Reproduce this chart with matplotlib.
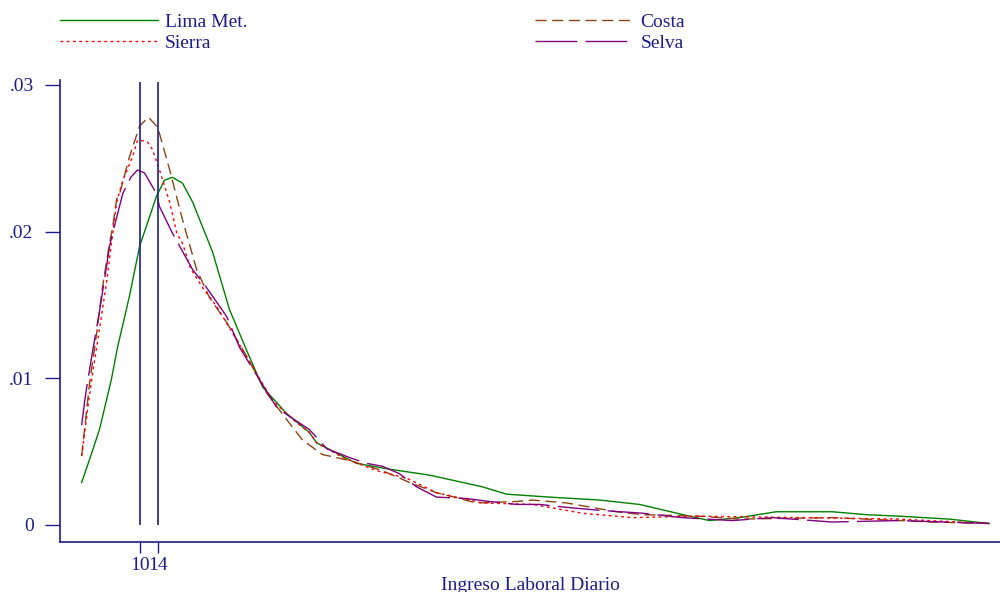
import numpy as np
import matplotlib
matplotlib.use("Agg")
import matplotlib.pyplot as plt

plt.rcParams['font.family'] = ['Liberation Serif', 'DejaVu Serif']

navy = "#1c1c8c"

# Lima Metropolitana
x_lima = [-3.2, -0.7, 0.9, 3.5, 4.9, 7.6, 9.9, 13.7, 15.5, 17.3, 19.6, 21.9, 26.4, 30.2,
          34.1, 37.7, 43.1, 48.3, 49.9, 58.9, 66.4, 75.4, 79.9, 87.4, 92.8, 102.5,
          113.8, 122.9, 134.2, 138.7, 145.5, 153.8, 166.5, 174.2, 181.6, 192.9, 202]
y_lima = [.0029, .0051, .0066, .0099, .0121, .0156, .0190, .0224, .0235, .0237, .0233,
          .0220, .0186, .0147, .0119, .0094, .0076, .0063, .0056, .0042, .0038, .0034,
          .0031, .0026, .0021, .0019, .0017, .0014, .0006, .0003, .0005, .0009, .0009,
          .0007, .0006, .0004, .0001]

# Costa
x_costa = [-3.2, -1.4, 0.2, 1.5, 3.1, 3.8, 4.7, 5.4, 7.6, 9.9, 11.9, 14.0, 16.7, 19.6,
           22.8, 25.7, 29.6, 34.1, 38.6, 43.1, 46.7, 51.2, 57.3, 64.8, 70.9, 77.0, 86.1,
           95.1, 98.7, 106.4, 117.7, 123.6, 136.4, 145.5, 166.5, 189.1, 202]
y_costa = [.0047, .0097, .0131, .0162, .0192, .0203, .0222, .0226, .0251, .0272, .0278,
           .0271, .0242, .0208, .0174, .0155, .0138, .0115, .0090, .0072, .0058, .0048,
           .0044, .0037, .0029, .0022, .0015, .0016, .0017, .0015, .0009, .0007, .0006,
           .0004, .0005, .0002, .0001]

# Sierra
x_sierra = [-3.2, -1.9, -0.7, 0.9, 2.4, 4.7, 6.1, 8.3, 9.4, 10.6, 11.7, 12.8, 14.4, 16.7,
            18.3, 19.6, 21.4, 24.1, 27.3, 30.9, 35.4, 39.9, 44.5, 48.3, 49.9, 55.8, 63.5,
            70.2, 77.0, 87.4, 98.7, 110.0, 121.3, 136.4, 159.0, 181.6, 202]
y_sierra = [.0047, .0078, .0104, .0135, .0165, .0220, .0235, .0251, .0262, .0262, .0261,
            .0256, .0242, .0220, .0199, .0192, .0175, .0162, .0149, .0131, .0108, .0085,
            .0072, .0063, .0056, .0046, .0037, .0032, .0022, .0015, .0014, .0008, .0005,
            .0006, .0005, .0004, .0001]

# Selva
x_selva = [-3.2, -2.5, -1.9, -0.7, 0.9, 2.4, 3.1, 3.8, 6.1, 7.9, 9.4, 11.0, 13.7, 14.4,
           17.3, 21.9, 25.0, 29.6, 32.5, 37.0, 40.9, 43.8, 48.3, 52.2, 57.3, 61.2, 64.8,
           68.6, 72.5, 77.0, 83.8, 89.0, 95.1, 100.3, 106.4, 113.8, 123.6, 132.6, 143.9,
           152.9, 166.5, 181.6, 202]
y_selva = [.0068, .0085, .0097, .0119, .0147, .0176, .0190, .0199, .0226, .0237, .0242,
           .0240, .0226, .0217, .0199, .0174, .0162, .0142, .0121, .0099, .0080, .0074,
           .0065, .0052, .0046, .0042, .0040, .0035, .0026, .0019, .0018, .0016, .0014,
           .0014, .0012, .0010, .0008, .0005, .0003, .0005, .0002, .0003, .0001]

marks = [10, 14]

fig = plt.figure(figsize=(10, 5.92), dpi=100)
ax = fig.add_axes([0.06, 0.0845, 0.94, 0.7805])

l1, = ax.plot(x_lima, y_lima, color="#008000", lw=1.0, label="Lima Met.")
l2, = ax.plot(x_costa, y_costa, color="#8B4513", lw=1.0, dashes=(8, 4), label="Costa")
l3, = ax.plot(x_sierra, y_sierra, color="#ff0000", lw=1.0, dashes=(2, 2.5), label="Sierra")
l4, = ax.plot(x_selva, y_selva, color="#800080", lw=1.0, dashes=(30, 6), label="Selva")

ax.vlines(marks, 0, 0.0302, color=navy, lw=1.2)

ax.set_xlim(-8.1, 204.4)
ax.set_ylim(-0.00116, 0.03034)

ax.set_yticks([0, 0.01, 0.02, 0.03])
ax.set_yticklabels(["0", ".01", ".02", ".03"])
ax.set_xticks(marks)
ax.set_xticklabels(["10", "14"])
ax.tick_params(axis="y", length=11, width=1, color=navy, labelcolor=navy, labelsize=14, pad=8)
ax.tick_params(axis="x", length=8, width=1, color=navy, labelcolor=navy, labelsize=14, pad=3)

for s in ["top", "right"]:
    ax.spines[s].set_visible(False)
for s in ["left", "bottom"]:
    ax.spines[s].set_color(navy)
    ax.spines[s].set_linewidth(1.2)

ax.set_xlabel("Ingreso Laboral Diario", color=navy, fontsize=14, labelpad=2)

leg = fig.legend([l1, l3, l2, l4], ["Lima Met.", "Sierra", "Costa", "Selva"],
                 ncol=2, loc="upper left", bbox_to_anchor=(0.06, 0.977),
                 frameon=False, fontsize=14, handlelength=5.05, handletextpad=0.36,
                 columnspacing=14.8, labelspacing=0.15, labelcolor=navy,
                 borderaxespad=0, borderpad=0)

plt.savefig("out.png", dpi=100)
